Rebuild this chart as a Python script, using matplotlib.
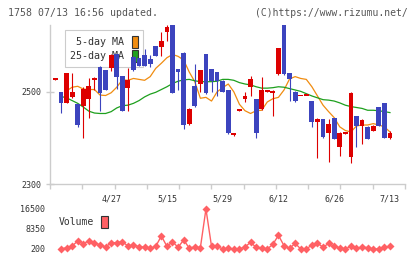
import numpy as np
import matplotlib
matplotlib.use("Agg")
import matplotlib.pyplot as plt
from matplotlib.patches import Patch

# daily candles, oldest first
opens = [2526, 2500, 2476, 2488, 2473, 2470, 2484, 2525, 2554, 2547,
         2552, 2581, 2534, 2509, 2576, 2573, 2579, 2572, 2599, 2598,
         2630, 2644, 2549, 2585, 2430, 2513, 2518, 2582, 2549, 2543,
         2524, 2503, 2406, 2459, 2484, 2511, 2484, 2462, 2500, 2498,
         2538, 2645, 2540, 2500, 2490, 2491, 2480, 2435, 2441, 2411,
         2443, 2381, 2409, 2359, 2447, 2426, 2424, 2415, 2467, 2475, 2400]
highs = [2527, 2500, 2540, 2540, 2473, 2510, 2531, 2532, 2556, 2548,
         2583, 2582, 2535, 2552, 2577, 2574, 2593, 2580, 2600, 2630,
         2645, 2644, 2549, 2586, 2464, 2560, 2548, 2583, 2550, 2544,
         2525, 2504, 2411, 2460, 2500, 2535, 2485, 2532, 2503, 2503,
         2596, 2645, 2541, 2501, 2491, 2492, 2481, 2444, 2442, 2440,
         2444, 2412, 2410, 2499, 2448, 2440, 2425, 2428, 2468, 2476, 2414]
lows = [2526, 2453, 2476, 2486, 2424, 2400, 2443, 2505, 2459, 2504,
        2545, 2507, 2458, 2459, 2546, 2556, 2556, 2553, 2577, 2578,
        2610, 2497, 2505, 2419, 2429, 2466, 2500, 2495, 2500, 2490,
        2499, 2409, 2405, 2459, 2478, 2490, 2399, 2460, 2500, 2448,
        2537, 2537, 2480, 2477, 2490, 2491, 2424, 2356, 2400, 2348,
        2397, 2360, 2409, 2346, 2381, 2387, 2397, 2414, 2425, 2399, 2397]
closes = [2527, 2476, 2540, 2500, 2428, 2507, 2512, 2527, 2498, 2505,
          2580, 2533, 2459, 2525, 2547, 2557, 2557, 2561, 2578, 2610,
          2640, 2498, 2542, 2427, 2463, 2470, 2547, 2498, 2523, 2523,
          2500, 2410, 2411, 2460, 2491, 2527, 2411, 2504, 2503, 2502,
          2595, 2538, 2528, 2480, 2491, 2492, 2435, 2441, 2401, 2430,
          2398, 2411, 2410, 2498, 2426, 2439, 2398, 2426, 2426, 2400, 2411]

nan = np.nan
ma5 = [nan, nan, 2502, 2510, 2512, 2506, 2505, 2505, 2493, 2492,
       2498, 2510, 2526, 2525, 2529, 2527, 2525, 2533, 2551, 2562,
       2574, 2581, 2577, 2569, 2543, 2522, 2486, 2488, 2480, 2500,
       2509, 2517, 2500, 2473, 2459, 2453, 2459, 2460, 2478, 2485,
       2488, 2504, 2528, 2533, 2529, 2527, 2511, 2491, 2471, 2457,
       2444, 2424, 2416, 2413, 2426, 2428, 2428, 2431, 2428, 2424, 2413]
ma25 = [nan, 2490, 2487, 2481, 2475, 2467, 2458, 2454, 2453, 2453,
        2457, 2465, 2470, 2471, 2475, 2481, 2489, 2495, 2499, 2505,
        2511, 2518, 2523, 2526, 2527, 2524, 2522, 2522, 2522, 2523,
        2527, 2527, 2525, 2520, 2517, 2515, 2511, 2508, 2508, 2509,
        2511, 2510, 2507, 2504, 2501, 2496, 2491, 2487, 2483, 2482,
        2480, 2476, 2471, 2468, 2466, 2464, 2460, 2460, 2459, 2457, 2455]
volume = [nan, 200, 740, 1420, 3460, 2240, 3600, 2780, 1830, 1015, 2780,
          2780, 3190, 1420, 1830, 1150, 880, 470, 1290, 5500, 1290,
          3190, 880, 3870, 600, 1015, 740, 16500, 1290, 1290, 200,
          470, 200, 200, 1015, 2920, 880, 470, 200, 2100, 5770,
          1560, 470, 2510, 200, 200, 1830, 2650, 880, 2510, 1290,
          740, 200, 1290, 470, 1015, 740, 200, 200, 880, 1290]

date_labels = ["4/27", "5/15", "5/29", "6/12", "6/26", "7/13"]
date_idx = [10, 20, 30, 40, 50, 60]

RED = "#dd0000"
BLUE = "#3c44be"
ORANGE = "#f08c10"
GREEN = "#1ea01e"
VOLC = "#ff6064"
GREY = "#cccccc"
MONO = "DejaVu Sans Mono"

x = np.arange(len(opens))
o = np.array(opens, float)
c = np.array(closes, float)
colors = [RED if cc >= oo else BLUE for oo, cc in zip(o, c)]
XL = (-0.97, 62.7)

fig = plt.figure(figsize=(4.2, 2.59), dpi=100)
ax = fig.add_axes([50 / 420, 75 / 259, 355 / 420, 159 / 259])
ax.set_xlim(*XL)
ax.set_ylim(2300, 2645)

ax.plot(x, ma5, color=ORANGE, lw=0.9, zorder=2, label="5-day MA")
ax.plot(x, ma25, color=GREEN, lw=0.9, zorder=2, label="25-day MA")
ax.vlines(x, lows, highs, colors=colors, lw=0.8, zorder=3)
body = np.maximum(np.abs(c - o), 4)
ax.bar(x, body, bottom=np.minimum(o, c), width=0.86, color=colors,
       linewidth=0, zorder=4)

for s in ["top", "right"]:
    ax.spines[s].set_visible(False)
for s in ["left", "bottom"]:
    ax.spines[s].set_color(GREY)
    ax.spines[s].set_linewidth(1.0)

ax.set_yticks([2300, 2500])
ax.tick_params(axis="y", direction="inout", length=6, width=1, color=GREY,
               labelsize=6, labelcolor="#333333", pad=3.5)
for t in ax.get_yticklabels():
    t.set_family(MONO)
ax.set_xticks(np.linspace(XL[0], XL[1], 12))
ax.tick_params(axis="x", direction="out", length=3.6, width=1, color=GREY,
               labelbottom=False)
for i, lab in zip(date_idx, date_labels):
    ax.text(i, -0.094, lab, transform=ax.get_xaxis_transform(), ha="center",
            va="center", fontsize=6, family=MONO, color="#333333")

handles = [Patch(facecolor=ORANGE, edgecolor="#333333", linewidth=0.8),
           Patch(facecolor=GREEN, edgecolor="#333333", linewidth=0.8)]
leg = ax.legend(handles, ["5-day MA", "25-day MA"], loc="upper left",
                bbox_to_anchor=(15 / 355, 1 - 5 / 159), borderaxespad=0,
                borderpad=0.55, handlelength=0.6, handleheight=1.5,
                handletextpad=0.7, labelspacing=0.2, markerfirst=False,
                fancybox=False, framealpha=1, edgecolor=GREY,
                prop={"family": MONO, "size": 7.2})
leg.get_frame().set_linewidth(0.8)
for t in leg.get_texts():
    t.set_color("#333333")
leg.set_zorder(1)

# volume panel
vax = fig.add_axes([50 / 420, 6 / 259, 355 / 420, 48 / 259])
vax.set_xlim(*XL)
vax.set_ylim(-1430, 18130)
vax.plot(x, volume, color=VOLC, lw=1, marker="D", ms=3.9, mec="none")
for s in vax.spines.values():
    s.set_visible(False)
vax.set_xticks([])
vax.set_yticks([200, 8350, 16500])
vax.tick_params(axis="y", length=0, labelsize=6, labelcolor="#333333", pad=3.6)
for t in vax.get_yticklabels():
    t.set_family(MONO)
vleg = vax.legend([Patch(facecolor=VOLC, edgecolor="#333333", linewidth=0.8)],
                  ["Volume"], loc="center left",
                  bbox_to_anchor=(9 / 355, (253 - 222) / 48), borderaxespad=0,
                  borderpad=0, handlelength=0.7, handleheight=1.5,
                  handletextpad=0.7, markerfirst=False, frameon=False,
                  prop={"family": MONO, "size": 7})
for t in vleg.get_texts():
    t.set_color("#333333")

fig.text(8 / 420, 1 - 13 / 259, "1758 07/13 16:56 updated.", fontsize=7.1,
         family=MONO, color="#555555", va="center")
fig.text(408 / 420, 1 - 13 / 259, "(C)https://www.rizumu.net/", fontsize=7.0,
         family=MONO, color="#555555", va="center", ha="right")

fig.savefig("out.png", dpi=100)
